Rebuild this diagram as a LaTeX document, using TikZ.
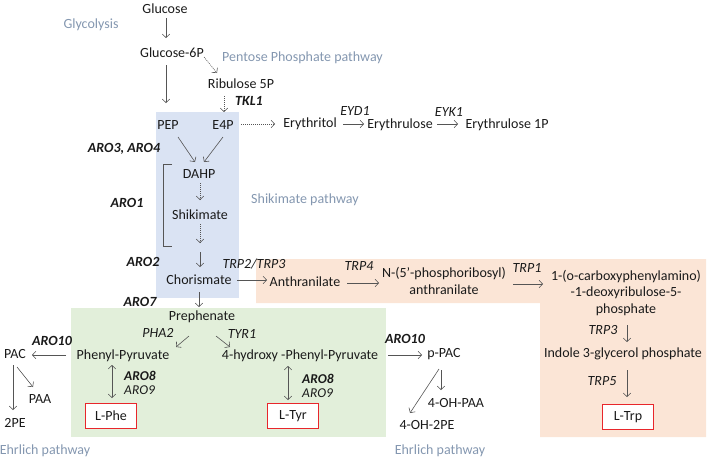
\documentclass[tikz,border=0pt]{standalone}
\usepackage{fontspec}
\setmainfont{Carlito}
\usetikzlibrary{arrows.meta}
\definecolor{txt}{HTML}{1A1A1A}
\definecolor{arc}{HTML}{555555}
\definecolor{pw}{HTML}{8497B0}
\definecolor{bluebg}{HTML}{DAE3F3}
\definecolor{greenbg}{HTML}{E2EFDA}
\definecolor{orangebg}{HTML}{FBE5D6}
\definecolor{redb}{HTML}{E8262B}
\newcommand{\fs}{\fontsize{14}{16.5}\selectfont}
\newcommand{\fsc}{\fontsize{13.5}{13.5}\selectfont}
\tikzset{
  lbl/.style={inner sep=0pt, font=\fs, text=txt, align=center},
  enz/.style={lbl, font=\fs\itshape},
  enzb/.style={lbl, font=\fs\bfseries\itshape},
  enzpair/.style={lbl, font=\fsc\itshape, align=left},
  pwl/.style={lbl, text=pw},
  arr/.style={draw=arc, line width=0.6pt, -{Straight Barb[length=3.5pt,width=7.5pt]}},
  darr/.style={arr, dash pattern=on 1pt off 1pt},
  dbl/.style={draw=arc, line width=0.6pt, {Straight Barb[length=3.5pt,width=7.5pt]}-{Straight Barb[length=3.5pt,width=7.5pt]}},
  redbox/.style={lbl, draw=redb, line width=1.3pt, fill=white, minimum width=51pt, minimum height=25pt}
}
\begin{document}
\begin{tikzpicture}[x=1pt,y=-1pt]
\useasboundingbox (0,0) rectangle (709,458);
% backgrounds
\fill[bluebg] (156,112) rectangle (239,298);
\fill[greenbg] (71,308) rectangle (386,437);
\fill[orangebg] (256,259) -- (706,259) -- (706,437) -- (540,437) -- (540,303) -- (256,303) -- cycle;
% nodes
\node[lbl] (glucose) at (165,9) {Glucose};
\node[pwl] (glyco) at (91,25) {Glycolysis};
\node[lbl] (g6p) at (172,53) {Glucose-6P};
\node[pwl, anchor=west] (ppp) at (222,58) {Pentose Phosphate pathway};
\node[lbl] (rib) at (241,84) {Ribulose 5P};
\node[enzb] (tkl1) at (249,101) {TKL1};
\node[lbl] (pep) at (168,125) {PEP};
\node[lbl] (e4p) at (223,125) {E4P};
\node[lbl] (eryol) at (310,124) {Erythritol};
\node[enz] (eyd1) at (355,111) {EYD1};
\node[lbl] (erul) at (400,125) {Erythrulose};
\node[enz] (eyk1) at (449,112) {EYK1};
\node[lbl] (erul1p) at (507,125) {Erythrulose 1P};
\node[enzb] (aro34) at (124,149) {ARO3, ARO4};
\node[lbl] (dahp) at (199,174) {DAHP};
\node[enzb] (aro1) at (127,203) {ARO1};
\node[lbl] (shik) at (200,215) {Shikimate};
\node[pwl] (shikpw) at (305,200) {Shikimate pathway};
\node[enzb] (aro2) at (143,262) {ARO2};
\node[lbl] (chor) at (199,280) {Chorismate};
\node[enz] (trp23) at (254,264) {TRP2/TRP3};
\node[lbl] (anth) at (305,282) {Anthranilate};
\node[enz] (trp4) at (359,266) {TRP4};
\node[lbl] (nprib) at (444,281) {N-(5’-phosphoribosyl)\\anthranilate};
\node[enz] (trp1) at (527,268) {TRP1};
\node[lbl] (cdrp) at (626,293) {1-(o-carboxyphenylamino)\\-1-deoxyribulose-5-\\phosphate};
\node[enz] (trp3) at (603,330) {TRP3};
\node[lbl] (igp) at (623,354) {Indole 3-glycerol phosphate};
\node[enz] (trp5) at (602,381) {TRP5};
\node[redbox] (ltrp) at (628,417) {L-Trp};
\node[enzb] (aro7) at (140,302) {ARO7};
\node[lbl] (preph) at (202,317) {Prephenate};
\node[enz] (pha2) at (158,333) {PHA2};
\node[enz] (tyr1) at (242,334) {TYR1};
\node[lbl] (phpyr) at (123,356) {Phenyl-Pyruvate};
\node[lbl] (hpp) at (300,356) {4-hydroxy -Phenyl-Pyruvate};
\node[enzb] (aro10a) at (52,341) {ARO10};
\node[lbl] (pac) at (15,354) {PAC};
\node[lbl] (paa) at (40,399) {PAA};
\node[lbl] (pe2) at (15,423) {2PE};
\node[pwl] (ehrl1) at (45,451) {Ehrlich pathway};
\node[enzpair] (aro89a) at (140,383) {\textbf{ARO8}\\ARO9};
\node[redbox] (lphe) at (111,416) {L-Phe};
\node[enzpair] (aro89b) at (318,386) {\textbf{ARO8}\\ARO9};
\node[redbox] (ltyr) at (293,416) {L-Tyr};
\node[enzb] (aro10b) at (405,339) {ARO10};
\node[lbl] (ppac) at (444,354) {p-PAC};
\node[lbl] (ohpaa) at (456,403) {4-OH-PAA};
\node[lbl] (ohpe) at (427,425) {4-OH-2PE};
\node[pwl] (ehrl2) at (440,451) {Ehrlich pathway};
% bracket
\draw[arc, line width=0.6pt] (172,164) -- (163,164) -- (163,246) -- (172,246);
% connectors
\draw[arr] ([shift={(1,9)}]glucose.center) -- ([shift={(-6,-15)}]g6p.center);
\draw[darr] ([shift={(32,4)}]g6p.center) -- ([shift={(-24,-11)}]rib.center);
\draw[arr] ([shift={(-6,12)}]g6p.center) -- ([shift={(-2,-22)}]pep.center);
\draw[darr] ([shift={(-17,12)}]rib.center) -- ([shift={(1,-13)}]e4p.center);
\draw[darr] ([shift={(18,-1)}]e4p.center) -- ([shift={(-35,0)}]eryol.center);
\draw[arr] ([shift={(33,0)}]eryol.center) -- ([shift={(-36,-1)}]erul.center);
\draw[arr] ([shift={(37,-1)}]erul.center) -- ([shift={(-49,-1)}]erul1p.center);
\draw[arr] ([shift={(10,12)}]pep.center) -- ([shift={(-4,-12)}]dahp.center);
\draw[arr] ([shift={(0,12)}]e4p.center) -- ([shift={(5,-12)}]dahp.center);
\draw[darr] ([shift={(1,9)}]dahp.center) -- ([shift={(0,-15)}]shik.center);
\draw[darr] ([shift={(0,9)}]shik.center) -- ([shift={(1,-37)}]chor.center);
\draw[arr] ([shift={(1,-28)}]chor.center) -- ([shift={(1,-13)}]chor.center);
\draw[arr] ([shift={(38,0)}]chor.center) -- ([shift={(-38,-2)}]anth.center);
\draw[arr] ([shift={(42,1)}]anth.center) -- ([shift={(-65,2)}]nprib.center);
\draw[arr] ([shift={(69,3)}]nprib.center) -- ([shift={(-83,-9)}]cdrp.center);
\draw[arr] ([shift={(1,32)}]cdrp.center) -- ([shift={(4,-12)}]igp.center);
\draw[arr] ([shift={(4,16)}]igp.center) -- ([shift={(-1,-20)}]ltrp.center);
\draw[arr] ([shift={(0,12)}]chor.center) -- ([shift={(-3,-10)}]preph.center);
\draw[arr] ([shift={(-13,19)}]preph.center) -- ([shift={(53,-9)}]phpyr.center);
\draw[arr] ([shift={(14,19)}]preph.center) -- ([shift={(-70,-9)}]hpp.center);
\draw[arr] ([shift={(-57,-1)}]phpyr.center) -- ([shift={(17,1)}]pac.center);
\draw[arr] ([shift={(2,13)}]pac.center) -- ([shift={(-7,-12)}]paa.center);
\draw[arr] ([shift={(-2,11)}]pac.center) -- ([shift={(-2,-13)}]pe2.center);
\draw[dbl] ([shift={(-11,9)}]phpyr.center) -- ([shift={(1,-18)}]lphe.center);
\draw[dbl] ([shift={(-12,10)}]hpp.center) -- ([shift={(-5,-16)}]ltyr.center);
\draw[arr] ([shift={(88,-1)}]hpp.center) -- ([shift={(-22,1)}]ppac.center);
\draw[arr] ([shift={(-3,16)}]ppac.center) -- ([shift={(-15,-13)}]ohpaa.center);
\draw[arr] ([shift={(-5,15)}]ppac.center) -- ([shift={(-17,-12)}]ohpe.center);
\end{tikzpicture}
\end{document}
